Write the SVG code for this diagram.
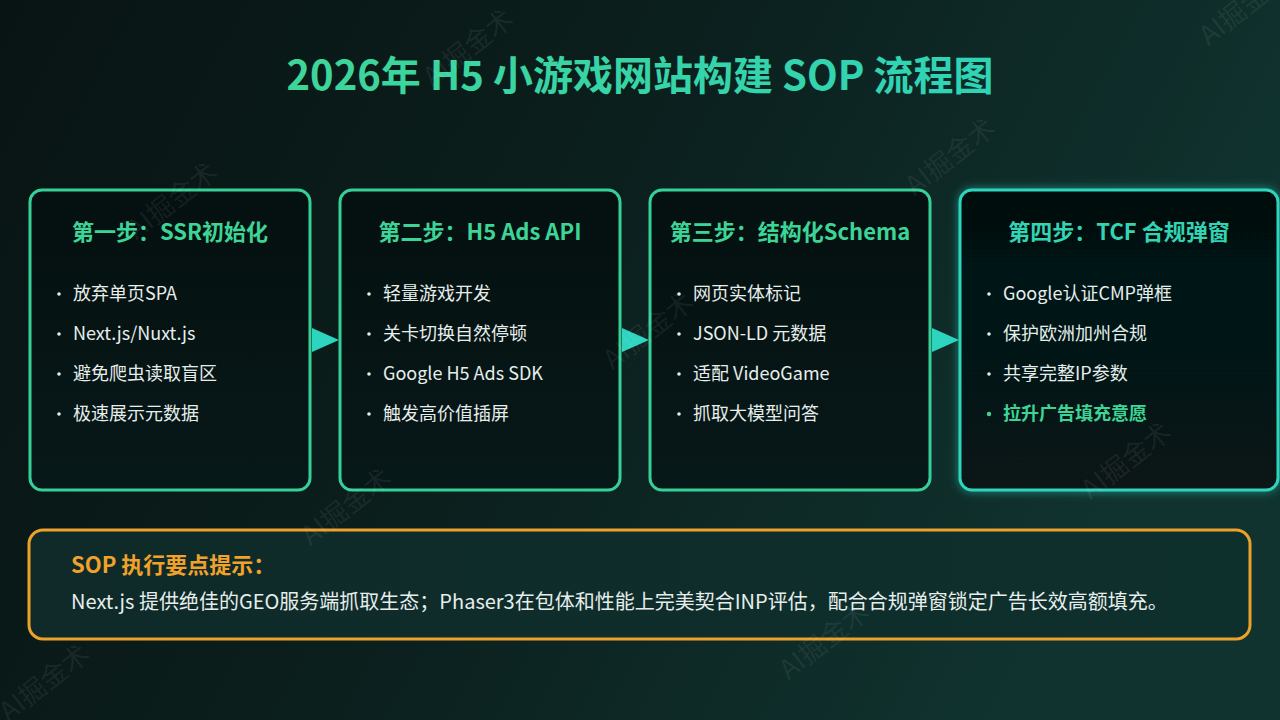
<svg xmlns="http://www.w3.org/2000/svg" width="1280" height="720" viewBox="0 0 1280 720">
  <defs>
    <linearGradient id="bg" x1="0" y1="0" x2="1" y2="0.3">
      <stop offset="0" stop-color="#081413"/>
      <stop offset="0.5" stop-color="#0b1f1d"/>
      <stop offset="1" stop-color="#10332f"/>
    </linearGradient>
    <linearGradient id="titleGrad" x1="0" y1="0" x2="1" y2="0">
      <stop offset="0" stop-color="#3ed598"/>
      <stop offset="1" stop-color="#2fd3b6"/>
    </linearGradient>
    <linearGradient id="boxFill" x1="0" y1="0" x2="0" y2="1">
      <stop offset="0" stop-color="#051010"/>
      <stop offset="1" stop-color="#071818"/>
    </linearGradient>
    <linearGradient id="noteFill" x1="0" y1="0" x2="1" y2="0">
      <stop offset="0" stop-color="#0f2a28"/>
      <stop offset="1" stop-color="#0e302d"/>
    </linearGradient>
    <filter id="glow" x="-20%" y="-20%" width="140%" height="140%">
      <feGaussianBlur in="SourceAlpha" stdDeviation="5" result="b"/>
      <feFlood flood-color="#2dd4bf" flood-opacity="0.55"/>
      <feComposite in2="b" operator="in" result="g"/>
      <feMerge>
        <feMergeNode in="g"/>
        <feMergeNode in="SourceGraphic"/>
      </feMerge>
    </filter>
  </defs>
  <style>
    text { font-family: "Noto Sans CJK SC", "Noto Sans", sans-serif; }
    .title { font-size: 40px; font-weight: 700; fill: url(#titleGrad); }
    .box { fill: url(#boxFill); stroke: #36cf97; stroke-width: 3; }
    .box4 { fill: url(#boxFill); stroke: #2fd5bd; stroke-width: 3; }
    .head { font-size: 22px; font-weight: 700; fill: #3dd597; text-anchor: middle; }
    .head4 { font-size: 22px; font-weight: 700; fill: #34d3b4; text-anchor: middle; }
    .item { font-size: 18px; fill: #e6eeec; }
    .itemhl { font-size: 18px; font-weight: 700; fill: #3dd597; }
    .dot { fill: #e6eeec; }
    .dothl { fill: #3dd597; }
    .arrow { fill: #2dd4bf; }
    .note { fill: url(#noteFill); stroke: #eba12a; stroke-width: 3; }
    .notehead { font-size: 22px; font-weight: 700; fill: #f0a22a; }
    .notebody { font-size: 20px; fill: #e6eeec; }
    .wm { font-size: 27px; fill: #ffffff; fill-opacity: 0.07; text-anchor: middle; }
  </style>

  <rect width="1280" height="720" fill="url(#bg)"/>

  <text id="title" class="title" x="640" y="90" text-anchor="middle">2026年 H5 小游戏网站构建 SOP 流程图</text>

  <g id="connectors">
    <polygon class="arrow" points="312,328 339,340 312,352"/>
    <polygon class="arrow" points="622,328 649,340 622,352"/>
    <polygon class="arrow" points="932,328 959,340 932,352"/>
  </g>

  <g id="step1">
    <rect class="box" x="30" y="190" width="280" height="300" rx="12"/>
    <text class="head" x="170" y="240">第一步：SSR初始化</text>
    <circle class="dot" cx="59" cy="294" r="1.8"/>
    <text class="item" x="73" y="300">放弃单页SPA</text>
    <circle class="dot" cx="59" cy="334" r="1.8"/>
    <text class="item" x="73" y="340">Next.js/Nuxt.js</text>
    <circle class="dot" cx="59" cy="374" r="1.8"/>
    <text class="item" x="73" y="380">避免爬虫读取盲区</text>
    <circle class="dot" cx="59" cy="414" r="1.8"/>
    <text class="item" x="73" y="420">极速展示元数据</text>
  </g>

  <g id="step2">
    <rect class="box" x="340" y="190" width="280" height="300" rx="12"/>
    <text class="head" x="480" y="240">第二步：H5 Ads API</text>
    <circle class="dot" cx="369" cy="294" r="1.8"/>
    <text class="item" x="383" y="300">轻量游戏开发</text>
    <circle class="dot" cx="369" cy="334" r="1.8"/>
    <text class="item" x="383" y="340">关卡切换自然停顿</text>
    <circle class="dot" cx="369" cy="374" r="1.8"/>
    <text class="item" x="383" y="380">Google H5 Ads SDK</text>
    <circle class="dot" cx="369" cy="414" r="1.8"/>
    <text class="item" x="383" y="420">触发高价值插屏</text>
  </g>

  <g id="step3">
    <rect class="box" x="650" y="190" width="280" height="300" rx="12"/>
    <text class="head" x="790" y="240">第三步：结构化Schema</text>
    <circle class="dot" cx="679" cy="294" r="1.8"/>
    <text class="item" x="693" y="300">网页实体标记</text>
    <circle class="dot" cx="679" cy="334" r="1.8"/>
    <text class="item" x="693" y="340">JSON-LD 元数据</text>
    <circle class="dot" cx="679" cy="374" r="1.8"/>
    <text class="item" x="693" y="380">适配 VideoGame</text>
    <circle class="dot" cx="679" cy="414" r="1.8"/>
    <text class="item" x="693" y="420">抓取大模型问答</text>
  </g>

  <g id="step4">
    <rect class="box4" x="960" y="190" width="318" height="300" rx="12" filter="url(#glow)"/>
    <text class="head4" x="1119" y="240">第四步：TCF 合规弹窗</text>
    <circle class="dot" cx="989" cy="294" r="1.8"/>
    <text class="item" x="1003" y="300">Google认证CMP弹框</text>
    <circle class="dot" cx="989" cy="334" r="1.8"/>
    <text class="item" x="1003" y="340">保护欧洲加州合规</text>
    <circle class="dot" cx="989" cy="374" r="1.8"/>
    <text class="item" x="1003" y="380">共享完整IP参数</text>
    <circle class="dothl" cx="989" cy="414" r="2.2"/>
    <text class="itemhl" x="1003" y="420">拉升广告填充意愿</text>
  </g>

  <g id="note">
    <rect class="note" x="29" y="530" width="1221" height="109" rx="14"/>
    <text class="notehead" x="71" y="573">SOP 执行要点提示：</text>
    <text class="notebody" x="71" y="609">Next.js 提供绝佳的GEO服务端抓取生态；Phaser3在包体和性能上完美契合INP评估，配合合规弹窗锁定广告长效高额填充。</text>
  </g>

  <g id="watermarks">
    <text class="wm" transform="translate(474,55) rotate(-38)">AI掘金术</text>
    <text class="wm" transform="translate(1250,14) rotate(-38)">AI掘金术</text>
    <text class="wm" transform="translate(178,208) rotate(-38)">AI掘金术</text>
    <text class="wm" transform="translate(956,164) rotate(-38)">AI掘金术</text>
    <text class="wm" transform="translate(654,338) rotate(-38)">AI掘金术</text>
    <text class="wm" transform="translate(352,514) rotate(-38)">AI掘金术</text>
    <text class="wm" transform="translate(1132,468) rotate(-38)">AI掘金术</text>
    <text class="wm" transform="translate(830,648) rotate(-38)">AI掘金术</text>
    <text class="wm" transform="translate(50,690) rotate(-38)">AI掘金术</text>
  </g>
</svg>
